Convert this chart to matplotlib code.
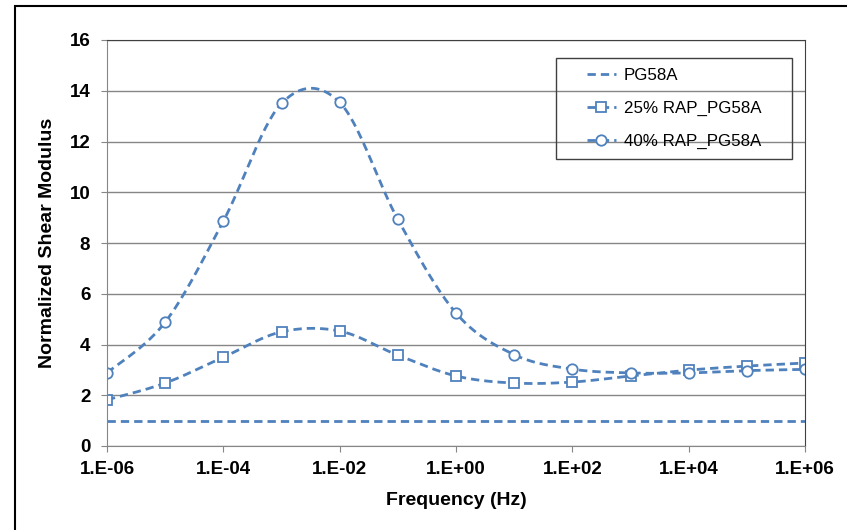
import numpy as np
import matplotlib.pyplot as plt
from matplotlib.patches import Rectangle

plt.rcParams['font.family'] = ['Liberation Sans', 'DejaVu Sans']

# data
freq = [1e-6, 1e-5, 1e-4, 1e-3, 1e-2, 1e-1, 1e0, 1e1, 1e2, 1e3, 1e4, 1e5, 1e6]
pg58a = [1.0] * 13
rap25 = [1.82, 2.48, 3.50, 4.50, 4.53, 3.58, 2.76, 2.48, 2.52, 2.76, 2.99, 3.15, 3.27]
rap40 = [2.88, 4.88, 8.86, 13.50, 13.54, 8.93, 5.24, 3.60, 3.03, 2.88, 2.88, 2.97, 3.02]
xticks = [1e-6, 1e-4, 1e-2, 1e0, 1e2, 1e4, 1e6]
xticklabels = ['1.E-06', '1.E-04', '1.E-02', '1.E+00', '1.E+02', '1.E+04', '1.E+06']

blue = '#4F81BD'
W, H = 847, 530


def smooth(x, y, n=30):
    # Excel-like smoothed line: cubic bezier with catmull-rom control points in log-x
    lx = np.log10(x)
    y = np.asarray(y, dtype=float)
    px, py = [], []
    for i in range(len(lx) - 1):
        i0 = max(i - 1, 0)
        i3 = min(i + 2, len(lx) - 1)
        p0 = np.array([lx[i], y[i]])
        p3 = np.array([lx[i + 1], y[i + 1]])
        c1 = p0 + (p3 - np.array([lx[i0], y[i0]])) / 6
        c2 = p3 - (np.array([lx[i3], y[i3]]) - p0) / 6
        t = np.linspace(0, 1, n)[:, None]
        pts = ((1 - t) ** 3) * p0 + 3 * ((1 - t) ** 2) * t * c1 + 3 * (1 - t) * t ** 2 * c2 + t ** 3 * p3
        px.extend(pts[:, 0])
        py.extend(pts[:, 1])
    return 10 ** np.array(px), np.array(py)


fig = plt.figure(figsize=(W / 100, H / 100), dpi=100)
ax = fig.add_axes([107 / W, 84 / H, 698 / W, 406 / H])

# outer chart border (cut off at right and bottom)
fig.patches.append(Rectangle((15 / W, -0.1), 1.2, 1 - 6 / H + 0.1, transform=fig.transFigure,
                             fill=False, edgecolor='black', linewidth=1.5))

ls = (0, (3, 1.8))
ax.plot(freq, pg58a, color=blue, lw=2, ls=ls, label='PG58A')
for vals, mk, lab in [(rap25, 's', '25% RAP_PG58A'), (rap40, 'o', '40% RAP_PG58A')]:
    sx, sy = smooth(freq, vals)
    ax.plot(sx, sy, color=blue, lw=2, ls=ls)
    ax.plot(freq, vals, ls='none', marker=mk, ms=7.5, mfc='white', mec=blue, mew=1.3)
    ax.plot([], [], color=blue, lw=2, ls=ls, marker=mk, ms=7.5, mfc='white', mec=blue, mew=1.3, label=lab)

ax.set_xscale('log')
ax.set_xlim(1e-6, 1e6)
ax.set_ylim(0, 16)
ax.set_xticks(xticks)
ax.set_xticklabels(xticklabels)
ax.xaxis.set_minor_locator(plt.NullLocator())
ax.set_yticks(range(0, 17, 2))
ax.grid(axis='y', color='#868686', lw=1)
ax.set_axisbelow(True)

for lab in ax.get_xticklabels() + ax.get_yticklabels():
    lab.set_fontweight('bold')
    lab.set_fontsize(13.5)
ax.tick_params(axis='both', direction='out', length=4, color='#868686')
ax.tick_params(axis='y', pad=8)
ax.tick_params(axis='x', pad=7)

ax.spines['left'].set_color('#868686')
ax.spines['bottom'].set_color('#868686')
ax.spines['top'].set_color('#404040')
ax.spines['right'].set_color('#404040')

ax.set_xlabel('Frequency (Hz)', fontsize=14, fontweight='bold', labelpad=10)
ax.set_ylabel('Normalized Shear Modulus', fontsize=14, fontweight='bold', labelpad=10)

# legend frame drawn separately for Excel-like padding
lx0, lx1, ly0, ly1 = 556, 792, 530 - 159, 530 - 58
fig.patches.append(Rectangle((lx0 / W, ly0 / H), (lx1 - lx0) / W, (ly1 - ly0) / H,
                             transform=fig.transFigure, fill=False, edgecolor='#404040', lw=1, zorder=5))
leg = ax.legend(loc='center', bbox_to_anchor=((lx0 + lx1) / 2 / W, (ly0 + ly1) / 2 / H),
                bbox_transform=fig.transFigure, fontsize=12.2, frameon=False,
                borderpad=0, labelspacing=1.05, handlelength=1.75, handletextpad=0.45)

fig.savefig('out.png', dpi=100)
